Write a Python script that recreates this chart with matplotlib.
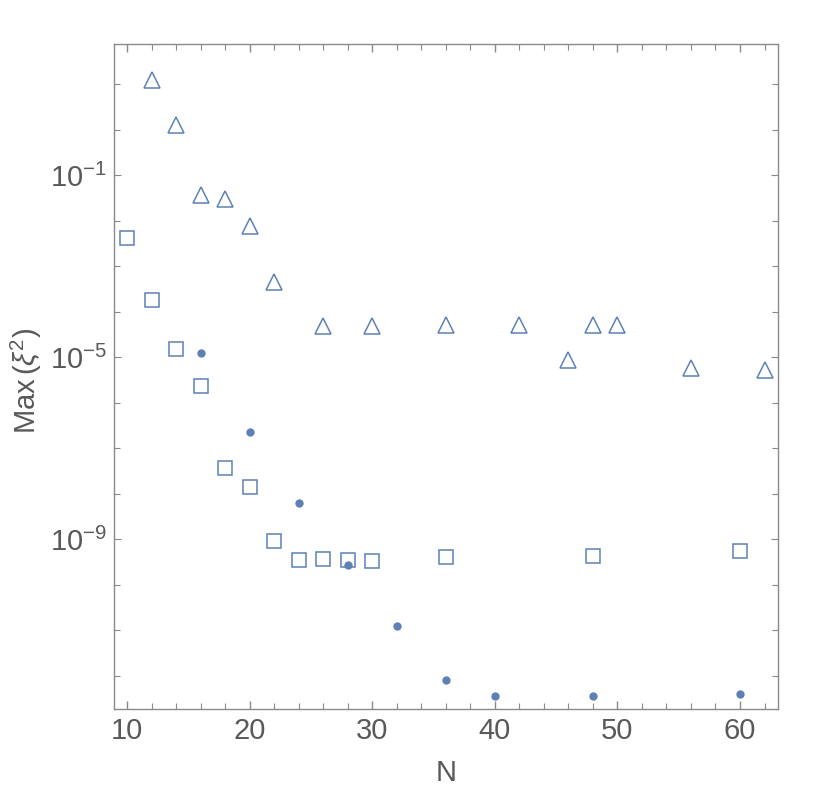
import matplotlib
matplotlib.use("Agg")
import matplotlib.pyplot as plt
import numpy as np
from matplotlib.ticker import FixedLocator, FixedFormatter, MultipleLocator

plt.rcParams['font.family'] = ['Liberation Sans', 'DejaVu Sans']
plt.rcParams['mathtext.fontset'] = 'custom'
plt.rcParams['mathtext.rm'] = 'Liberation Sans'
plt.rcParams['mathtext.it'] = 'Liberation Sans:italic'

# Data (log10 of Max(xi^2))
tri_N = [12, 14, 16, 18, 20, 22, 26, 30, 36, 42, 46, 48, 50, 56, 62]
tri_log = [1.09, 0.105, -1.44, -1.53, -2.12, -3.345, -4.31, -4.31, -4.30, -4.30, -5.07, -4.30, -4.30, -5.235, -5.27]

sq_N = [10, 12, 14, 16, 18, 20, 22, 24, 26, 28, 30, 36, 48, 60]
sq_log = [-2.38, -3.74, -4.82, -5.63, -7.44, -7.86, -9.03, -9.45, -9.44, -9.455, -9.47, -9.39, -9.37, -9.25]

dot_N = [16, 20, 24, 28, 32, 36, 40, 48, 60]
dot_log = [-4.905, -6.65, -8.21, -9.565, -10.90, -12.10, -12.45, -12.45, -12.39]

ytick_vals = [1e-9, 1e-5, 1e-1]
ytick_labels = [r'$\mathregular{10^{-9}}$', r'$\mathregular{10^{-5}}$', r'$\mathregular{10^{-1}}$']

color = '#5E81B5'
gray = '#595959'

fig = plt.figure(figsize=(8.3, 7.96), dpi=100)
ax = fig.add_axes([114/830, 1-709/796, (778-114)/830, (709-44)/796])

ax.plot(tri_N, 10**np.array(tri_log), linestyle='none', marker='^', markersize=11.5,
        markerfacecolor='none', markeredgecolor=color, markeredgewidth=1.1)
ax.plot(sq_N, 10**np.array(sq_log), linestyle='none', marker='s', markersize=9.6,
        markerfacecolor='none', markeredgecolor=color, markeredgewidth=1.1)
ax.plot(dot_N, 10**np.array(dot_log), linestyle='none', marker='o', markersize=6,
        markerfacecolor=color, markeredgecolor=color, markeredgewidth=0)

ax.set_yscale('log')
ax.set_xlim(8.93, 63.1)
ax.set_ylim(10**-12.73, 10**1.886)

ax.xaxis.set_major_locator(MultipleLocator(10))
ax.xaxis.set_minor_locator(MultipleLocator(2))
ax.yaxis.set_major_locator(FixedLocator(ytick_vals))
ax.yaxis.set_major_formatter(FixedFormatter(ytick_labels))
ax.yaxis.set_minor_locator(FixedLocator([10.0**k for k in range(-12, 2)]))
ax.yaxis.set_minor_formatter(FixedFormatter([]))

for s in ax.spines.values():
    s.set_color('#8a8a8a')
    s.set_linewidth(1.0)

ax.tick_params(axis='both', which='both', direction='in', top=True, right=True,
               colors='#8a8a8a', labelcolor=gray, labelsize=21)
ax.tick_params(axis='x', which='major', length=6, width=1.0, pad=6)
ax.tick_params(axis='x', which='minor', length=4, width=0.8)
ax.tick_params(axis='y', which='major', length=5, width=0.8, pad=5)
ax.tick_params(axis='y', which='minor', length=4, width=0.8)
for lab in ax.get_yticklabels():
    lab.set_color(gray)

ax.set_xlabel('N', fontsize=21, color=gray, labelpad=10)
ax.set_ylabel(r'Max$\,(\mathit{\xi}^{2})$', fontsize=21, color=gray)
ax.yaxis.set_label_coords(-0.105, 0.493)

fig.savefig('out.png', dpi=100)
